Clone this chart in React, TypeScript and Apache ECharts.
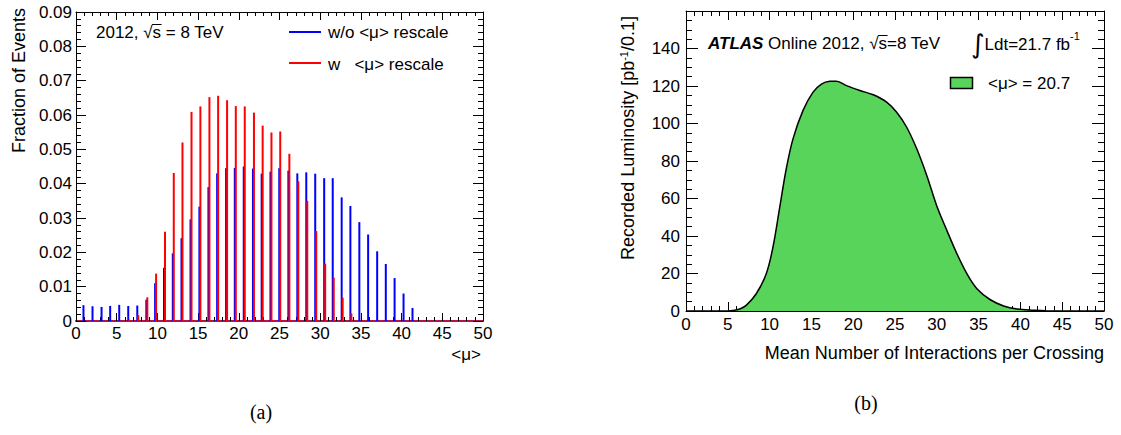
import React, { useEffect, useRef } from 'react';
import * as echarts from 'echarts';

// ----- Panel (a): fraction of events vs <mu> -----
const muPositions = [0.98, 2.09, 3.2, 4.26, 5.37, 6.48, 7.59, 8.7, 9.78, 10.87, 11.95, 13.02, 14.13, 15.22, 16.33, 17.4, 18.5, 19.57, 20.67, 21.8, 22.87, 23.95, 25.03, 26.15, 27.25, 28.35, 29.45, 30.55, 31.6, 32.7, 33.77, 34.87, 35.95, 37.06, 38.12, 39.2, 40.3, 41.4];
const withoutRescale = [0.0046, 0.0043, 0.0041, 0.0044, 0.0047, 0.0044, 0.0045, 0.0062, 0.011, 0.0155, 0.0197, 0.0241, 0.0296, 0.0333, 0.039, 0.043, 0.0445, 0.0446, 0.045, 0.0444, 0.0429, 0.0435, 0.0445, 0.0438, 0.043, 0.0433, 0.0429, 0.0416, 0.0416, 0.036, 0.0335, 0.0288, 0.0252, 0.0203, 0.0166, 0.0125, 0.008, 0.0038];
const withRescale = [0, 0, 0, 0, 0, 0.0004, 0.0017, 0.0069, 0.0138, 0.026, 0.0431, 0.052, 0.0609, 0.0625, 0.0652, 0.0656, 0.0643, 0.0626, 0.0625, 0.0607, 0.0569, 0.0549, 0.0552, 0.0487, 0.0407, 0.035, 0.0262, 0.0167, 0.0126, 0.0068, 0.0022, 0, 0, 0, 0, 0, 0, 0];

// ----- Panel (b): recorded luminosity vs mean interactions per crossing -----
const lumiMu = [0, 5, 5.8, 6.5, 7.2, 8.4, 9.6, 10.4, 11.2, 12.0, 12.8, 14.0, 15.2, 16.2, 17.2, 18.0, 19.2, 20.8, 22.4, 24.0, 25.2, 26.4, 27.6, 28.8, 30.0, 31.2, 32.4, 33.6, 34.8, 36.4, 38.0, 39.6, 41.6, 43, 50];
const lumiValue = [0, 0, 0.4, 1.2, 3, 9.2, 19.9, 34, 55, 76, 91.8, 107, 116.7, 121, 122.5, 122.6, 120.2, 117.6, 115.3, 111.4, 106, 98, 86.5, 72.3, 56, 43, 30.6, 19.9, 11.9, 6, 2.7, 1.1, 0.4, 0.1, 0];

const FONT = '"Liberation Sans", Arial, Helvetica, sans-serif';
const SERIF = '"Liberation Serif", "Times New Roman", serif';
const BLUE = '#0000ff';
const RED = '#ff0000';
const GREEN = '#59d45a';

function valueAxis(o: any) {
  return {
    type: 'value',
    gridIndex: o.grid,
    position: o.position,
    min: o.min,
    max: o.max,
    interval: o.interval,
    axisLine: { show: true, onZero: false, lineStyle: { color: o.lineColor || '#000', width: o.lineWidth || 1 } },
    axisTick: { show: true, inside: true, length: o.major, lineStyle: { color: '#000', width: 1 } },
    minorTick: { show: true, splitNumber: o.split, length: o.minor, lineStyle: { color: '#000', width: 1 } },
    splitLine: { show: false },
    minorSplitLine: { show: false },
    axisLabel: {
      show: !!o.labels,
      color: '#000',
      fontSize: 17,
      fontFamily: FONT,
      margin: o.margin || 4,
      formatter: o.formatter,
    },
  };
}

export default function App() {
  const ref = useRef<HTMLDivElement>(null);
  useEffect(() => {
    document.body.style.margin = '0';
    const chart = echarts.init(ref.current!, undefined, { renderer: 'svg' });

    const ctx = document.createElement('canvas').getContext('2d')!;
    const measure = (s: string, font: string) => {
      ctx.font = font;
      return ctx.measureText(s).width;
    };
    const f17 = '17px "Liberation Sans"';
    const f17bi = 'italic bold 17px "Liberation Sans"';

    // overline positions for sqrt(s)
    const leftTextX = 96;
    const leftTextY = 32;
    const ls0 = leftTextX + measure('2012, √', f17);
    const ls1 = leftTextX + measure('2012, √s', f17);
    const rightTextX = 708;
    const rightTextY = 43;
    const atlasW = measure('ATLAS', f17bi);
    const rs0 = rightTextX + atlasW + measure(' Online 2012, √', f17);
    const rs1 = rightTextX + atlasW + measure(' Online 2012, √s', f17);

    const option: any = {
      animation: false,
      grid: [
        { left: 76, top: 12, width: 407, height: 309, show: false },
        { left: 686, top: 11, width: 418, height: 300, show: false },
      ],
      xAxis: [
        valueAxis({ grid: 0, position: 'bottom', min: 0, max: 50, interval: 5, split: 5, major: 8, minor: 4, labels: true, margin: 4, lineColor: '#b3124b', lineWidth: 2 }),
        valueAxis({ grid: 0, position: 'top', min: 0, max: 50, interval: 5, split: 5, major: 8, minor: 4 }),
        valueAxis({ grid: 1, position: 'bottom', min: 0, max: 50, interval: 5, split: 5, major: 9, minor: 5, labels: true, margin: 5 }),
        valueAxis({ grid: 1, position: 'top', min: 0, max: 50, interval: 5, split: 5, major: 9, minor: 5 }),
      ],
      yAxis: [
        valueAxis({ grid: 0, position: 'left', min: 0, max: 0.09, interval: 0.01, split: 5, major: 10, minor: 5, labels: true, margin: 4,
          formatter: (v: number) => (Math.abs(v) < 1e-9 ? '0' : v.toFixed(2)) }),
        valueAxis({ grid: 0, position: 'right', min: 0, max: 0.09, interval: 0.01, split: 5, major: 10, minor: 5 }),
        valueAxis({ grid: 1, position: 'left', min: 0, max: 160, interval: 20, split: 4, major: 12, minor: 6, labels: true, margin: 6,
          formatter: (v: number) => (v < 159 ? String(Math.round(v)) : '') }),
        valueAxis({ grid: 1, position: 'right', min: 0, max: 160, interval: 20, split: 4, major: 12, minor: 6 }),
      ],
      series: [
        {
          name: 'w/o <μ> rescale',
          type: 'bar',
          xAxisIndex: 0,
          yAxisIndex: 0,
          barWidth: 2,
          barGap: '-50%',
          itemStyle: { color: BLUE },
          data: muPositions.map((x, i) => [x, withoutRescale[i]]),
        },
        {
          name: 'w <μ> rescale',
          type: 'bar',
          xAxisIndex: 0,
          yAxisIndex: 0,
          barWidth: 2,
          barGap: '-50%',
          itemStyle: { color: RED },
          data: muPositions.map((x, i) => [x, withRescale[i]]),
        },
        {
          name: '<μ> = 20.7',
          type: 'line',
          xAxisIndex: 2,
          yAxisIndex: 2,
          smooth: 0.35,
          showSymbol: false,
          symbol: 'none',
          lineStyle: { color: '#000', width: 1.5 },
          areaStyle: { color: GREEN, opacity: 1 },
          data: lumiMu.map((x, i) => [x, lumiValue[i]]),
        },
      ],
      graphic: [
        // panel (a) texts
        { type: 'text', x: 19, y: 8, rotation: Math.PI / 2,
          style: { text: 'Fraction of Events', font: `18px ${FONT}`, fill: '#000', align: 'right', verticalAlign: 'middle' } },
        { type: 'text', x: 481, y: 354,
          style: { text: '<μ>', font: `17px ${FONT}`, fill: '#000', align: 'right', verticalAlign: 'middle' } },
        { type: 'text', x: leftTextX, y: leftTextY,
          style: { text: '2012, √s = 8 TeV', font: `17px ${FONT}`, fill: '#000', align: 'left', verticalAlign: 'middle' } },
        { type: 'line', shape: { x1: ls0 - 0.5, y1: leftTextY - 7.5, x2: ls1 + 0.5, y2: leftTextY - 7.5 }, style: { stroke: '#000', lineWidth: 1 } },
        { type: 'line', shape: { x1: 289, y1: 32, x2: 321, y2: 32 }, style: { stroke: BLUE, lineWidth: 2 } },
        { type: 'text', x: 328, y: 32,
          style: { text: 'w/o <μ> rescale', font: `17px ${FONT}`, fill: '#000', align: 'left', verticalAlign: 'middle' } },
        { type: 'line', shape: { x1: 289, y1: 63, x2: 321, y2: 63 }, style: { stroke: RED, lineWidth: 2 } },
        { type: 'text', x: 328, y: 64,
          style: { text: 'w   <μ> rescale', font: `17px ${FONT}`, fill: '#000', align: 'left', verticalAlign: 'middle' } },
        // panel (b) texts
        { type: 'text', x: 628, y: 16, rotation: Math.PI / 2,
          style: {
            text: 'Recorded Luminosity [pb{s|-1}/0.1]',
            font: `18px ${FONT}`, fill: '#000', align: 'right', verticalAlign: 'middle',
            rich: { s: { fontSize: 11, fontFamily: FONT, verticalAlign: 'top', lineHeight: 20 } },
          } },
        { type: 'text', x: 1104, y: 353,
          style: { text: 'Mean Number of Interactions per Crossing', font: `18px ${FONT}`, fill: '#000', align: 'right', verticalAlign: 'middle' } },
        { type: 'text', x: rightTextX, y: rightTextY,
          style: {
            text: '{b|ATLAS} Online 2012, √s=8 TeV',
            font: `17px ${FONT}`, fill: '#000', align: 'left', verticalAlign: 'middle',
            rich: { b: { fontSize: 17, fontFamily: FONT, fontWeight: 'bold', fontStyle: 'italic' } },
          } },
        { type: 'line', shape: { x1: rs0 - 0.5, y1: rightTextY - 7.5, x2: rs1 + 0.5, y2: rightTextY - 7.5 }, style: { stroke: '#000', lineWidth: 1 } },
        { type: 'text', x: 971, y: 44,
          style: {
            text: '{i|∫}Ldt=21.7 fb{s|-1}',
            font: `17px ${FONT}`, fill: '#000', align: 'left', verticalAlign: 'middle',
            rich: {
              i: { fontSize: 26, fontFamily: 'DejaVu Sans', lineHeight: 28 },
              s: { fontSize: 11, fontFamily: FONT, verticalAlign: 'top', lineHeight: 22 },
            },
          } },
        { type: 'rect', shape: { x: 950.5, y: 77.5, width: 22, height: 11 }, style: { fill: GREEN, stroke: '#000', lineWidth: 1.5 } },
        { type: 'text', x: 988, y: 83,
          style: { text: '<μ> = 20.7', font: `17px ${FONT}`, fill: '#000', align: 'left', verticalAlign: 'middle' } },
        // captions
        { type: 'text', x: 261, y: 412,
          style: { text: '(a)', font: `20px ${SERIF}`, fill: '#000', align: 'center', verticalAlign: 'middle' } },
        { type: 'text', x: 866, y: 403,
          style: { text: '(b)', font: `20px ${SERIF}`, fill: '#000', align: 'center', verticalAlign: 'middle' } },
      ],
    };
    chart.setOption(option);
    return () => chart.dispose();
  }, []);
  return <div ref={ref} style={{ width: 1121, height: 435 }} />;
}
